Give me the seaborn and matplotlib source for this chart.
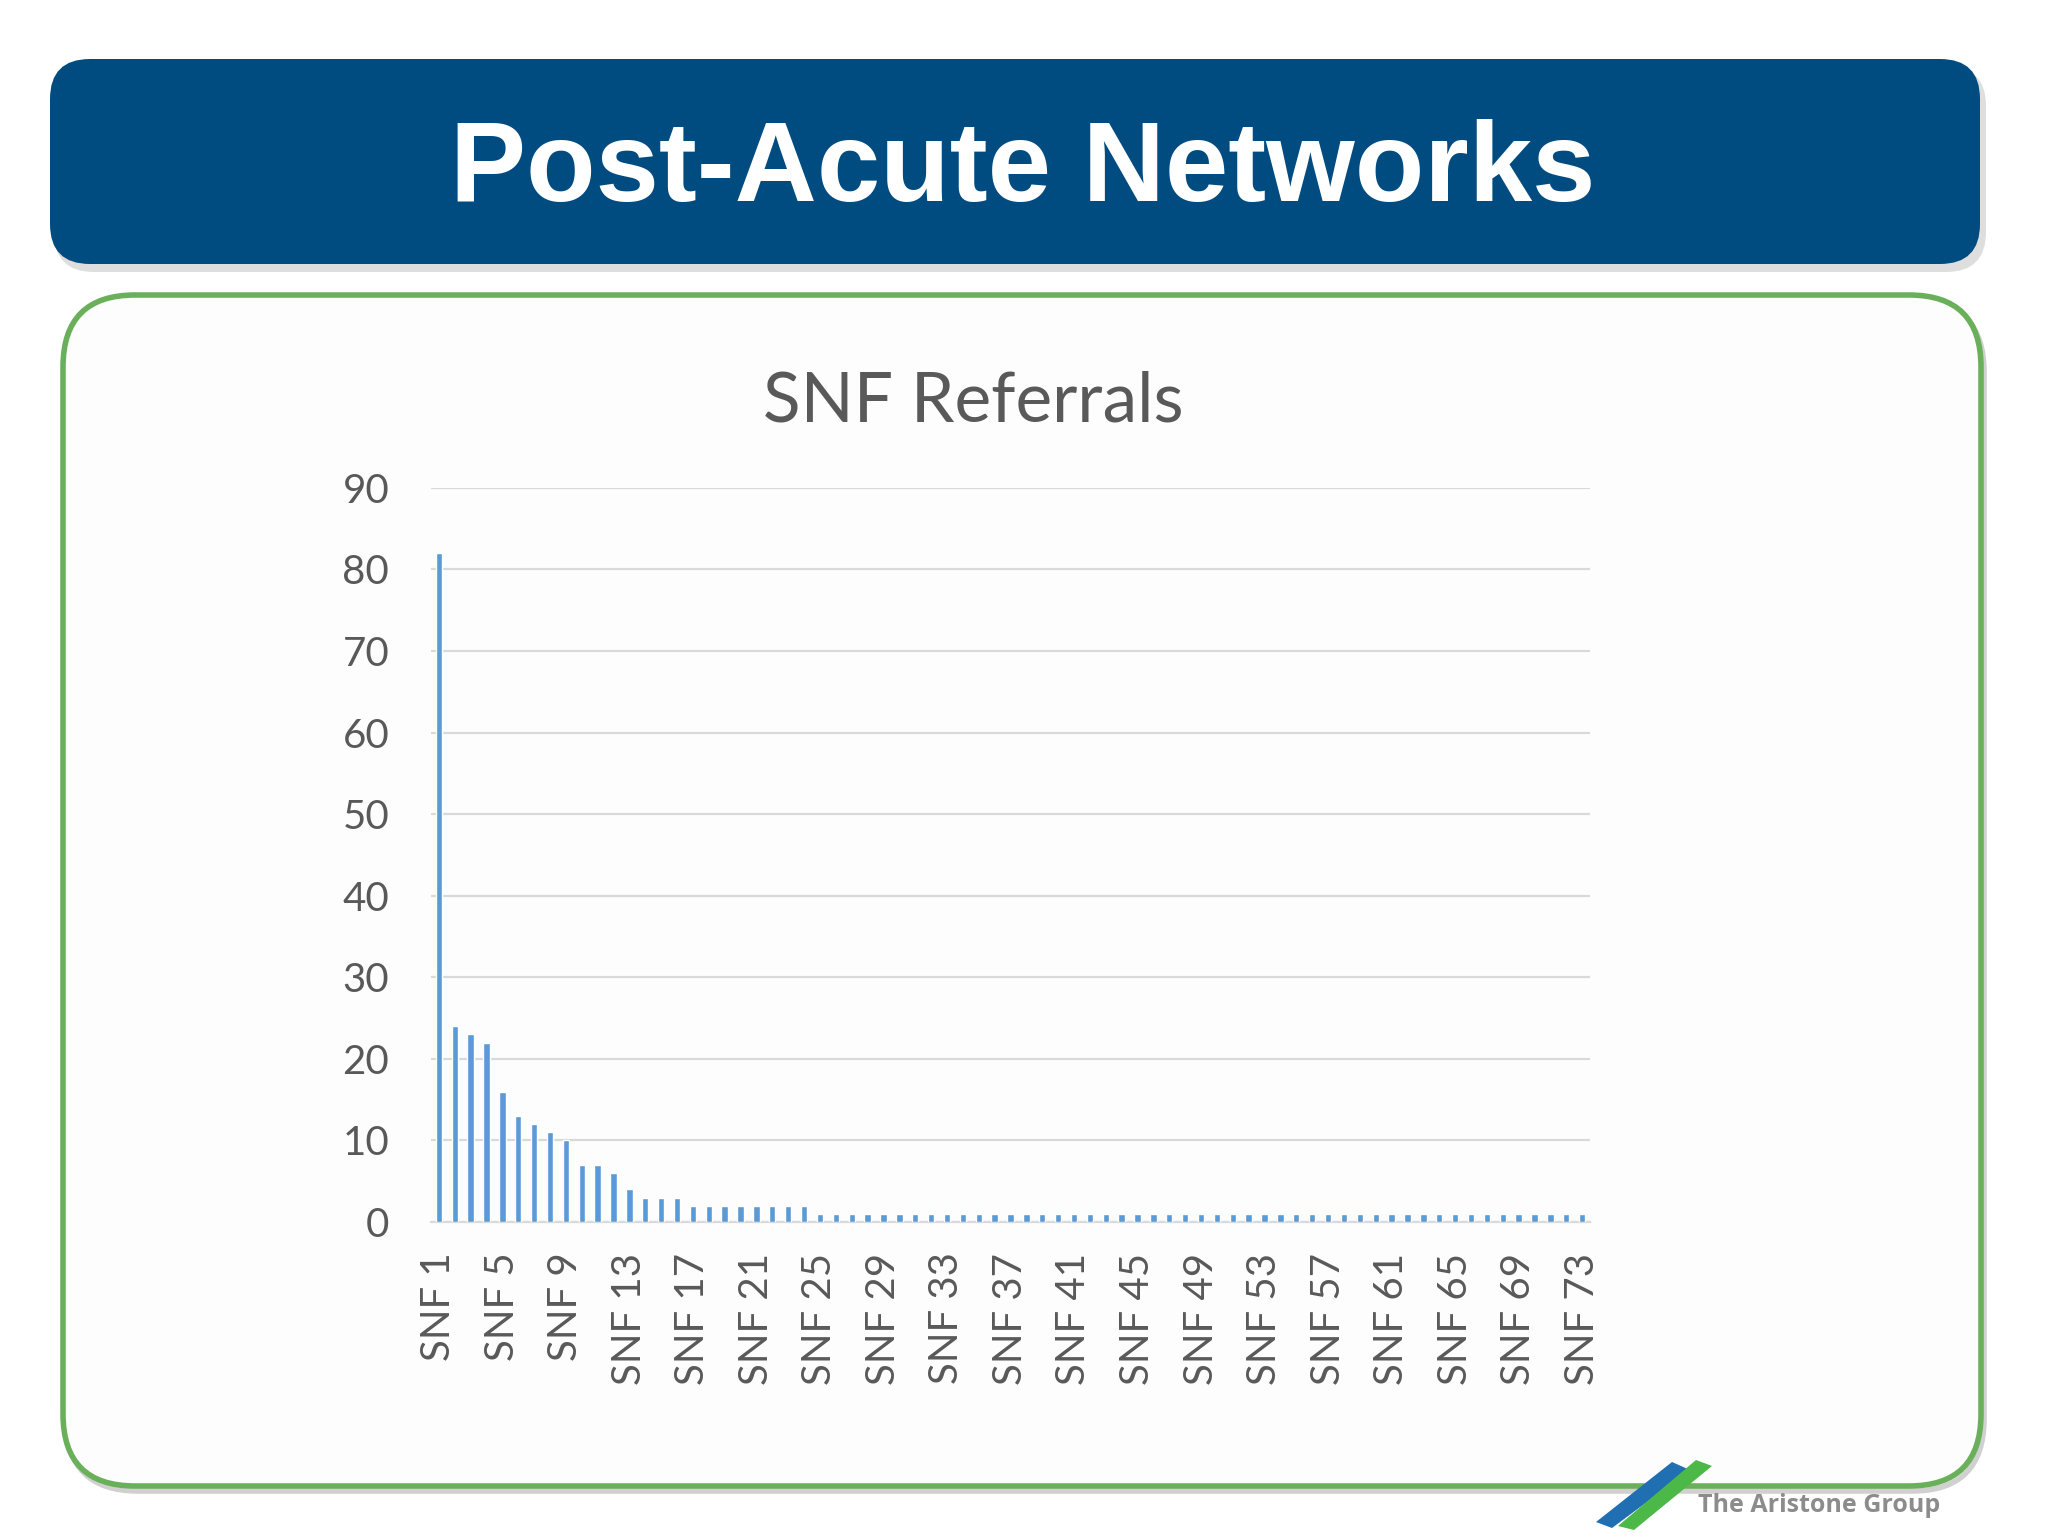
import numpy as np
import pandas as pd
import matplotlib
matplotlib.use("Agg")
import matplotlib.pyplot as plt
from matplotlib.patches import FancyBboxPatch, Polygon
import seaborn as sns

# SNF referral counts
snf_names = ["SNF " + str(i) for i in range(1, 74)]
referrals = [82, 24, 23, 22, 16, 13, 12, 11, 10, 7, 7, 6, 4, 3, 3, 3,
             2, 2, 2, 2, 2, 2, 2, 2] + [1] * 49
y_ticks = [0, 10, 20, 30, 40, 50, 60, 70, 80, 90]
shown_labels = snf_names[::4]

df = pd.DataFrame({"snf": snf_names, "referrals": referrals})

sns.set_style("white")
plt.rcParams["font.family"] = ["Lato", "DejaVu Sans"]

fig = plt.figure(figsize=(20.48, 15.36), dpi=100)
fig.patch.set_facecolor("white")

# slide background layer in pixel coordinates (y down)
bg = fig.add_axes([0, 0, 1, 1])
bg.set_xlim(0, 2048)
bg.set_ylim(1536, 0)
bg.axis("off")

def rbox(x0, y0, x1, y1, r, **kw):
    p = FancyBboxPatch((x0 + r, y0 + r), (x1 - x0) - 2 * r, (y1 - y0) - 2 * r,
                       boxstyle="round,pad=%d" % r, **kw)
    bg.add_patch(p)

# header banner with a soft shadow
rbox(54, 66, 1986, 272, 40, facecolor="#c8c8c8", edgecolor="none", alpha=0.6)
rbox(50, 59, 1980, 264, 40, facecolor="#004c80", edgecolor="none")
bg.text(1023, 172, "Post-Acute Networks", color="white", fontsize=82,
        fontweight="bold", family="Liberation Sans", ha="center", va="center")

# green content frame
rbox(66, 300, 1984, 1491, 72, facecolor="none", edgecolor="#d0d0d0", linewidth=4)
rbox(63, 295, 1981, 1486, 72, facecolor="#fdfdfe", edgecolor="#6ab05a", linewidth=4)

# chart title
bg.text(973, 402, "SNF Referrals", color="#595959", fontsize=50,
        ha="center", va="center")

# logo
bg.add_patch(Polygon([[1596, 1522], [1612, 1528], [1690, 1470], [1672, 1462]],
                     closed=True, facecolor="#1f6fb2", edgecolor="none"))
bg.add_patch(Polygon([[1618, 1526], [1634, 1530], [1712, 1466], [1696, 1460]],
                     closed=True, facecolor="#4cb848", edgecolor="none"))
bg.text(1698, 1506, "The Aristone Group", color="#8c8c8c", fontsize=18,
        fontweight="bold", family="Open Sans", ha="left", va="center")

# bar chart
ax = fig.add_axes([0.2104, 0.2044, 0.566, 0.478])
ax.set_facecolor("none")
sns.barplot(data=df, x="snf", y="referrals", color="#5b9bd5", width=0.4,
            saturation=1, ax=ax, zorder=3)
ax.set_ylim(0, 90)
ax.set_yticks(y_ticks)
ax.set_xticks(range(0, len(snf_names), 4))
ax.set_xticklabels(shown_labels, rotation=90)
ax.yaxis.grid(True, color="#d9d9d9", linewidth=1.6)
ax.set_axisbelow(True)
for s in ["top", "right", "left"]:
    ax.spines[s].set_visible(False)
ax.spines["bottom"].set_color("#d9d9d9")
ax.spines["bottom"].set_linewidth(1.6)
ax.tick_params(axis="x", length=0, pad=22, labelsize=29, labelcolor="#595959")
ax.tick_params(axis="y", length=0, pad=30, labelsize=29, labelcolor="#595959")
ax.set_xlabel("")
ax.set_ylabel("")

fig.savefig("out.png", dpi=100)
